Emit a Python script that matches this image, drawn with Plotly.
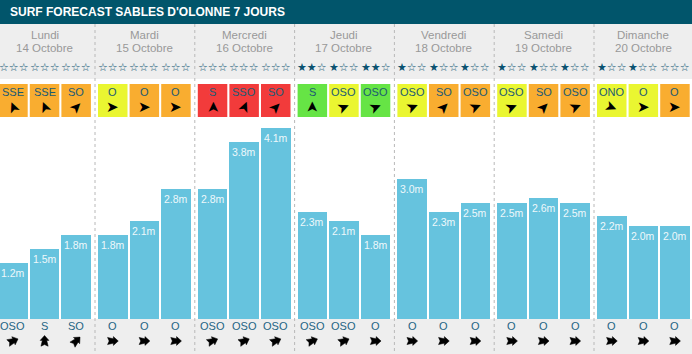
import math
import plotly.graph_objects as go

# ---------------- data ----------------
title = "SURF FORECAST SABLES D'OLONNE 7 JOURS"
days = ["Lundi", "Mardi", "Mercredi", "Jeudi", "Vendredi", "Samedi", "Dimanche"]
dates = ["14 Octobre", "15 Octobre", "16 Octobre", "17 Octobre",
         "18 Octobre", "19 Octobre", "20 Octobre"]
wave_m = [1.2, 1.5, 1.8, 1.8, 2.1, 2.8, 2.8, 3.8, 4.1, 2.3, 2.1, 1.8,
          3.0, 2.3, 2.5, 2.5, 2.6, 2.5, 2.2, 2.0, 2.0]
stars = [0, 0, 0, 0, 0, 0, 0, 0, 0, 2, 1, 2, 1, 1, 1, 1, 1, 1, 1, 1, 0]
wind_dir = ["SSE", "SSE", "SO", "O", "O", "O", "S", "SSO", "SO",
            "S", "OSO", "OSO", "OSO", "SO", "OSO", "OSO", "SO", "OSO",
            "ONO", "O", "O"]
wind_level = ["orange", "orange", "orange", "yellow", "orange", "orange",
              "red", "red", "red", "green", "yellow", "green",
              "yellow", "orange", "orange", "yellow", "orange", "orange",
              "yellow", "yellow", "orange"]
swell_dir = ["OSO", "S", "SO", "O", "O", "O", "OSO", "OSO", "OSO",
             "OSO", "OSO", "O", "O", "O", "O", "O", "O", "O", "O", "O", "O"]

compass = {"N": 0, "NNE": 22.5, "NE": 45, "ENE": 67.5, "E": 90, "ESE": 112.5,
           "SE": 135, "SSE": 157.5, "S": 180, "SSO": 202.5, "SO": 225,
           "OSO": 247.5, "O": 270, "ONO": 292.5, "NO": 315, "NNO": 337.5}
level_colors = {"orange": "#f9ad30", "yellow": "#eaf631",
                "red": "#f23b3b", "green": "#66e445"}

# ---------------- layout constants (pixels) ----------------
W, H = 692, 354
DAY_W, SLOT, BAR_W, X0 = 99.8, 31.6, 29.5, 12.95
BASE, PX_PER_M = 319, 46.6
xc = [X0 + d * DAY_W + i * SLOT for d in range(7) for i in range(3)]
day_c = [xc[3 * d + 1] for d in range(7)]
seps = [X0 - BAR_W / 2 - 3 + d * DAY_W for d in range(1, 7)]

TEAL = "#01556b"
GREY_BG = "#eeeeee"
TXT_TEAL = "#1b5a73"

# swell arrow glyph (pointing up, px, centred on 0,0)
SWELL_GLYPH = [(0, -5.5), (4.4, -0.6), (2.2, -0.6), (3.6, 5.2), (0, 3.6),
               (-3.6, 5.2), (-2.2, -0.6), (-4.4, -0.6)]


def glyph_path(cx, cy, deg):
    t = math.radians(deg)
    pts = [(cx + x * math.cos(t) - y * math.sin(t),
            cy + x * math.sin(t) + y * math.cos(t)) for x, y in SWELL_GLYPH]
    return "M" + " L".join(f"{px:.2f},{py:.2f}" for px, py in pts) + " Z"


fig = go.Figure()
fig.add_trace(go.Bar(x=xc, y=wave_m, width=BAR_W, marker_color="#66c3de",
                     marker_line_width=0, hoverinfo="skip", yaxis="y"))
# invisible trace to activate pixel axis
fig.add_trace(go.Scatter(x=[0], y=[0], mode="markers", marker_opacity=0,
                         yaxis="y2", hoverinfo="skip", showlegend=False))

shapes = []
shapes.append(dict(type="rect", xref="paper", yref="y2", x0=0, x1=1, y0=0, y1=24,
                   fillcolor=TEAL, line_width=0, layer="below"))
shapes.append(dict(type="rect", xref="paper", yref="y2", x0=0, x1=1, y0=24, y1=79,
                   fillcolor=GREY_BG, line_width=0, layer="below"))
shapes.append(dict(type="rect", xref="paper", yref="y2", x0=0, x1=1, y0=BASE, y1=H,
                   fillcolor=GREY_BG, line_width=0, layer="below"))
for x, lv in zip(xc, wind_level):
    shapes.append(dict(type="rect", xref="x", yref="y2", x0=x - BAR_W / 2,
                       x1=x + BAR_W / 2, y0=84, y1=117,
                       fillcolor=level_colors[lv], line_width=0, layer="below"))
for s in seps:
    shapes.append(dict(type="line", xref="x", yref="y2", x0=s, x1=s, y0=24, y1=H,
                       line=dict(color="#b8b8b8", width=1, dash="3px,3px"),
                       layer="below"))
for x, sd in zip(xc, swell_dir):
    shapes.append(dict(type="path", xref="x", yref="y2",
                       path=glyph_path(x, 341, (compass[sd] + 180) % 360),
                       fillcolor="black", line=dict(color="black", width=0.5),
                       layer="above"))

ann = []
FONT = "Liberation Sans, Arial, sans-serif"
ann.append(dict(x=8, y=12, xref="x", yref="y2", xanchor="left", yanchor="middle",
                text="<b>" + title + "</b>", showarrow=False,
                font=dict(family=FONT, size=12, color="white")))
for c, dn, dt in zip(day_c, days, dates):
    ann.append(dict(x=c, y=35, xref="x", yref="y2", text=dn, showarrow=False,
                    font=dict(family=FONT, size=11.5, color="#999999")))
    ann.append(dict(x=c, y=48, xref="x", yref="y2", text=dt, showarrow=False,
                    font=dict(family=FONT, size=11.5, color="#999999")))
for x, n, wd, sd, v in zip(xc, stars, wind_dir, swell_dir, wave_m):
    ann.append(dict(x=max(x, 14), y=67, xref="x", yref="y2",
                    text="★" * n + "☆" * (3 - n), showarrow=False,
                    font=dict(family="DejaVu Sans", size=11, color="#0b5270")))
    ann.append(dict(x=x, y=92, xref="x", yref="y2", text=wd, showarrow=False,
                    font=dict(family=FONT, size=11, color=TXT_TEAL)))
    ann.append(dict(x=x, y=107, xref="x", yref="y2", text="➤", showarrow=False,
                    textangle=(compass[wd] + 180) % 360 - 90,
                    font=dict(family="DejaVu Sans", size=15, color="black")))
    ann.append(dict(x=x, y=v, xref="x", yref="y", yanchor="top", yshift=-2,
                    text=f"{v:.1f}m", showarrow=False,
                    font=dict(family=FONT, size=10.5, color="#eef8fb")))
    ann.append(dict(x=x, y=326, xref="x", yref="y2", text=sd, showarrow=False,
                    font=dict(family=FONT, size=11, color="#1e6585")))

fig.update_layout(
    width=W, height=H, autosize=False,
    margin=dict(l=0, r=0, t=0, b=0, pad=0),
    paper_bgcolor="white", plot_bgcolor="white",
    showlegend=False, bargap=0,
    xaxis=dict(range=[0, W], visible=False, fixedrange=True),
    yaxis=dict(range=[-(H - BASE) / PX_PER_M, BASE / PX_PER_M], visible=False,
               fixedrange=True),
    yaxis2=dict(range=[H, 0], overlaying="y", visible=False, fixedrange=True),
    shapes=shapes, annotations=ann,
)
fig.write_html("out.html", config={"displayModeBar": False})
